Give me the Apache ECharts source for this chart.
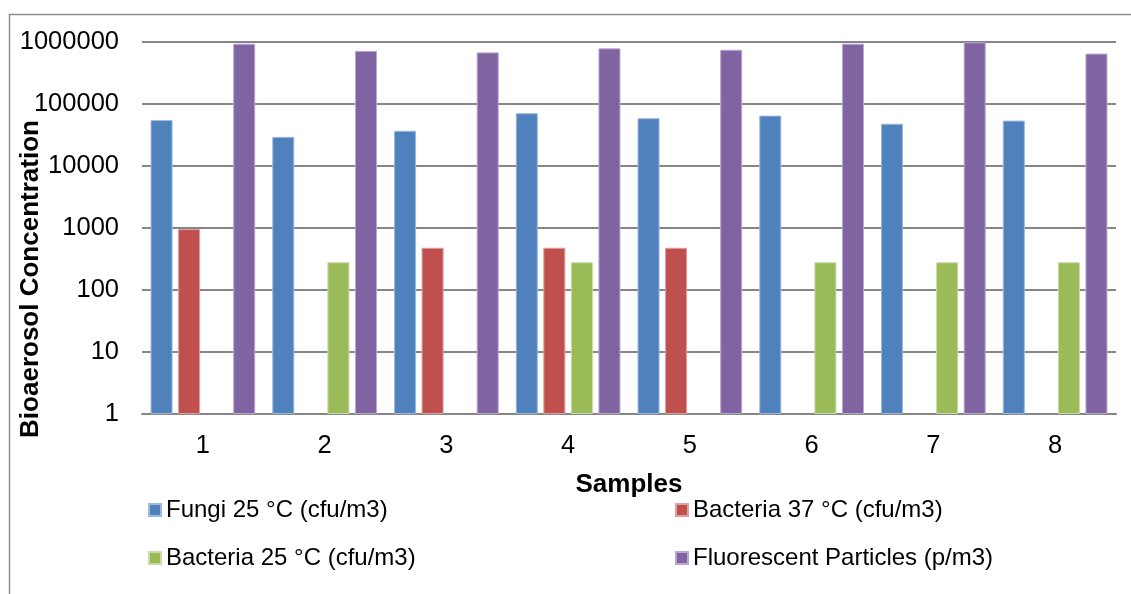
<!DOCTYPE html>
<html style="height: 100%;">
<head>
    <meta charset="utf-8">
    <title>Bioaerosol Concentration</title>
    <script type="text/javascript" src="https://cdn.jsdelivr.net/npm/echarts@6/dist/echarts.min.js"></script>
</head>
<body style="height: 100%; margin: 0; background: #fff;">
    <div id="container" style="width: 1131px; height: 594px;"></div>
    <script type="text/javascript">
        // data (null = no bar)
        var samples = ['1', '2', '3', '4', '5', '6', '7', '8'];
        var fungi25 = [55000, 29500, 37000, 71000, 59000, 65000, 48000, 54000];
        var bacteria37 = [960, null, 480, 480, 480, null, null, null];
        var bacteria25 = [null, 280, null, 280, null, 280, 280, 280];
        var fluorescent = [940000, 720000, 680000, 790000, 750000, 940000, 990000, 650000];
        var seriesNames = ['Fungi 25 °C (cfu/m3)', 'Bacteria 37 °C (cfu/m3)',
            'Bacteria 25 °C (cfu/m3)', 'Fluorescent Particles (p/m3)'];
        var colors = ['#4F81BD', '#C0504D', '#9BBB59', '#8064A2'];
        var borders = ['#9DB9DD', '#E0A09E', '#C9DBA6', '#BBA8D2'];

        var dom = document.getElementById('container');
        var myChart = echarts.init(dom);
        var font = 'Liberation Sans, Arial, sans-serif';

        // one legend per item so they sit in a 2 x 2 grid
        var legendPos = [[148, 498], [675, 498], [148, 546], [675, 546]];
        var legends = [];
        for (var i = 0; i < seriesNames.length; i++) {
            legends.push({
                data: [seriesNames[i]],
                left: legendPos[i][0],
                top: legendPos[i][1],
                padding: 0,
                itemWidth: 12,
                itemHeight: 12,
                icon: 'rect',
                selectedMode: false,
                textStyle: { fontFamily: font, fontSize: 24, color: '#000' }
            });
        }

        var values = [fungi25, bacteria37, bacteria25, fluorescent];
        var series = [];
        for (var j = 0; j < values.length; j++) {
            series.push({
                name: seriesNames[j],
                type: 'bar',
                data: values[j],
                barGap: '25%',
                barCategoryGap: '14%',
                itemStyle: { color: colors[j], borderColor: borders[j], borderWidth: 1 }
            });
        }

        var option = {
            animation: false,
            color: colors,
            legend: legends,
            grid: { left: 142, right: 15, top: 42, bottom: 180 },
            graphic: [
                {
                    type: 'rect',
                    left: 7, top: 12,
                    shape: { width: 1300, height: 800 },
                    style: { fill: 'none', stroke: '#8c8c8c', lineWidth: 1.5 },
                    silent: true
                },
                {
                    type: 'text',
                    x: 31, y: 279,
                    rotation: Math.PI / 2,
                    style: {
                        text: 'Bioaerosol Concentration',
                        font: 'bold 26px Liberation Sans, Arial, sans-serif',
                        fill: '#000',
                        align: 'center',
                        verticalAlign: 'middle'
                    }
                }
            ],
            xAxis: {
                type: 'category',
                data: samples,
                name: 'Samples',
                nameLocation: 'middle',
                nameGap: 58,
                nameTextStyle: { fontFamily: font, fontSize: 26, fontWeight: 'bold', color: '#000' },
                axisLine: { lineStyle: { color: '#868686', width: 2 } },
                axisTick: { show: false },
                axisLabel: { fontFamily: font, fontSize: 25.5, color: '#000', margin: 19 }
            },
            yAxis: {
                type: 'log',
                logBase: 10,
                min: 1,
                max: 1000000,
                axisLine: { show: false },
                axisTick: { show: false },
                splitLine: { lineStyle: { color: '#868686', width: 2 } },
                axisLabel: {
                    fontFamily: font, fontSize: 25.5, color: '#000', margin: 23,
                    formatter: function (v) { return String(Math.round(v)); }
                }
            },
            series: series
        };

        myChart.setOption(option);
        window.onresize = function () {
            myChart.resize();
        };
    </script>
</body>
</html>
